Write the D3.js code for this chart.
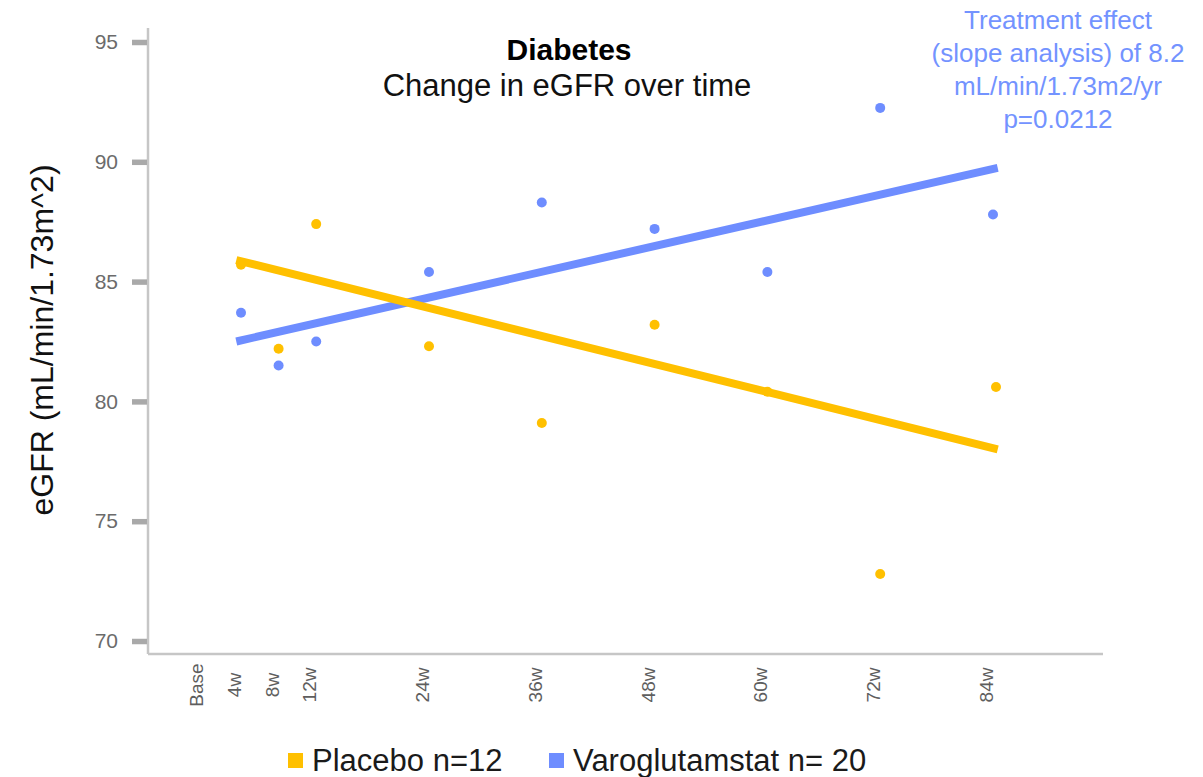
<!DOCTYPE html>
<html>
<head>
<meta charset="utf-8">
<script src="https://cdn.jsdelivr.net/npm/d3@7"></script>
<style>
  html, body { margin: 0; padding: 0; background: #ffffff; }
  svg { display: block; font-family: "Liberation Sans", Arial, sans-serif; }
</style>
</head>
<body>
<svg id="chart" width="1203" height="777"></svg>
<script>
// ---- data ----
const weeks = [4, 8, 12, 24, 36, 48, 60, 72, 84];
const tickWeeks = [0, 4, 8, 12, 24, 36, 48, 60, 72, 84];
const tickLabels = ["Base", "4w", "8w", "12w", "24w", "36w", "48w", "60w", "72w", "84w"];
const placeboValues = [85.7, 82.2, 87.4, 82.3, 79.1, 83.2, 80.4, 72.8, 80.6];
const varoValues = [83.7, 81.5, 82.5, 85.4, 88.3, 87.2, 85.4, 92.25, 87.8];
const trendWeeks = [3.5, 84.5];
const placeboTrend = [85.9, 78.0];
const varoTrend = [82.5, 89.75];
const yTicks = [70, 75, 80, 85, 90, 95];
const seriesNames = ["Placebo n=12", "Varoglutamstat n= 20"];
const annotationLines = ["Treatment effect", "(slope analysis) of 8.2", "mL/min/1.73m2/yr", "p=0.0212"];

const colPlacebo = "#FFC000";
const colVaro = "#6E8DFF";

const svg = d3.select("#chart");

// ---- scales ----
const x = d3.scaleLinear().domain([0, 84]).range([203.4, 993]);
const y = d3.scaleLinear().domain([70, 95]).range([641, 42]);

const axisX0 = 148, axisX1 = 1103, axisYTop = 28, axisYBottom = 654;

// ---- axes frame ----
svg.append("line").attr("x1", axisX0).attr("x2", axisX0).attr("y1", axisYTop).attr("y2", axisYBottom)
  .attr("stroke", "#c6c6c6").attr("stroke-width", 2.5);
svg.append("line").attr("x1", axisX0).attr("x2", axisX1).attr("y1", axisYBottom).attr("y2", axisYBottom)
  .attr("stroke", "#c6c6c6").attr("stroke-width", 2.5);

// y axis ticks & labels
const yAxis = d3.axisLeft(y).tickValues(yTicks).tickSize(15).tickPadding(14).tickFormat(d3.format("d"));
const yg = svg.append("g").attr("transform", `translate(${axisX0 - 1},0)`).call(yAxis);
yg.select(".domain").remove();
yg.selectAll(".tick line").attr("stroke", "#a9a9a9").attr("stroke-width", 5.5);
yg.selectAll(".tick text").attr("fill", "#6b6b6b").style("font-size", "21px")
  .style("font-family", "'Liberation Sans', Arial, sans-serif");

// x tick labels (rotated)
const xg = svg.append("g");
xg.selectAll("text").data(tickWeeks).join("text")
  .attr("transform", d => `translate(${x(d)},685) rotate(-90)`)
  .attr("text-anchor", "middle")
  .attr("fill", "#5e5e5e")
  .style("font-size", "19px")
  .text((d, i) => tickLabels[i]);

// ---- points ----
svg.append("g").selectAll("circle").data(weeks).join("circle")
  .attr("cx", d => x(d)).attr("cy", (d, i) => y(varoValues[i])).attr("r", 5).attr("fill", colVaro);
svg.append("g").selectAll("circle").data(weeks).join("circle")
  .attr("cx", d => x(d) + (d === 84 ? 3 : 0)).attr("cy", (d, i) => y(placeboValues[i])).attr("r", 5).attr("fill", colPlacebo);

// ---- trend lines ----
const line = d3.line().x(d => x(d[0])).y(d => y(d[1]));
svg.append("path").datum(trendWeeks.map((w, i) => [w, varoTrend[i]]))
  .attr("d", line).attr("stroke", colVaro).attr("stroke-width", 8).attr("fill", "none");
svg.append("path").datum(trendWeeks.map((w, i) => [w, placeboTrend[i]]))
  .attr("d", line).attr("stroke", colPlacebo).attr("stroke-width", 8).attr("fill", "none");

// ---- titles ----
svg.append("text").attr("x", 569).attr("y", 60).attr("text-anchor", "middle")
  .style("font-size", "30px").style("font-weight", "bold").attr("fill", "#000").text("Diabetes");
svg.append("text").attr("x", 567).attr("y", 96).attr("text-anchor", "middle")
  .style("font-size", "31px").attr("fill", "#111").text("Change in eGFR over time");

// y axis title
svg.append("text").attr("transform", "translate(53,340) rotate(-90)").attr("text-anchor", "middle")
  .style("font-size", "32px").attr("fill", "#111").text("eGFR (mL/min/1.73m^2)");

// annotation
svg.append("g").selectAll("text").data(annotationLines).join("text")
  .attr("x", 1058).attr("y", (d, i) => 29 + i * 33).attr("text-anchor", "middle")
  .style("font-size", "26px").attr("fill", "#7393FF").text(d => d);

// ---- legend ----
const legend = svg.append("g");
const legX = [288, 549];
const legCol = [colPlacebo, colVaro];
seriesNames.forEach((name, i) => {
  legend.append("rect").attr("x", legX[i]).attr("y", 753).attr("width", 15).attr("height", 15).attr("fill", legCol[i]);
  legend.append("text").attr("x", legX[i] + 24).attr("y", 771)
    .style("font-size", "31px").attr("fill", "#1a1a1a").text(name);
});
</script>
</body>
</html>
